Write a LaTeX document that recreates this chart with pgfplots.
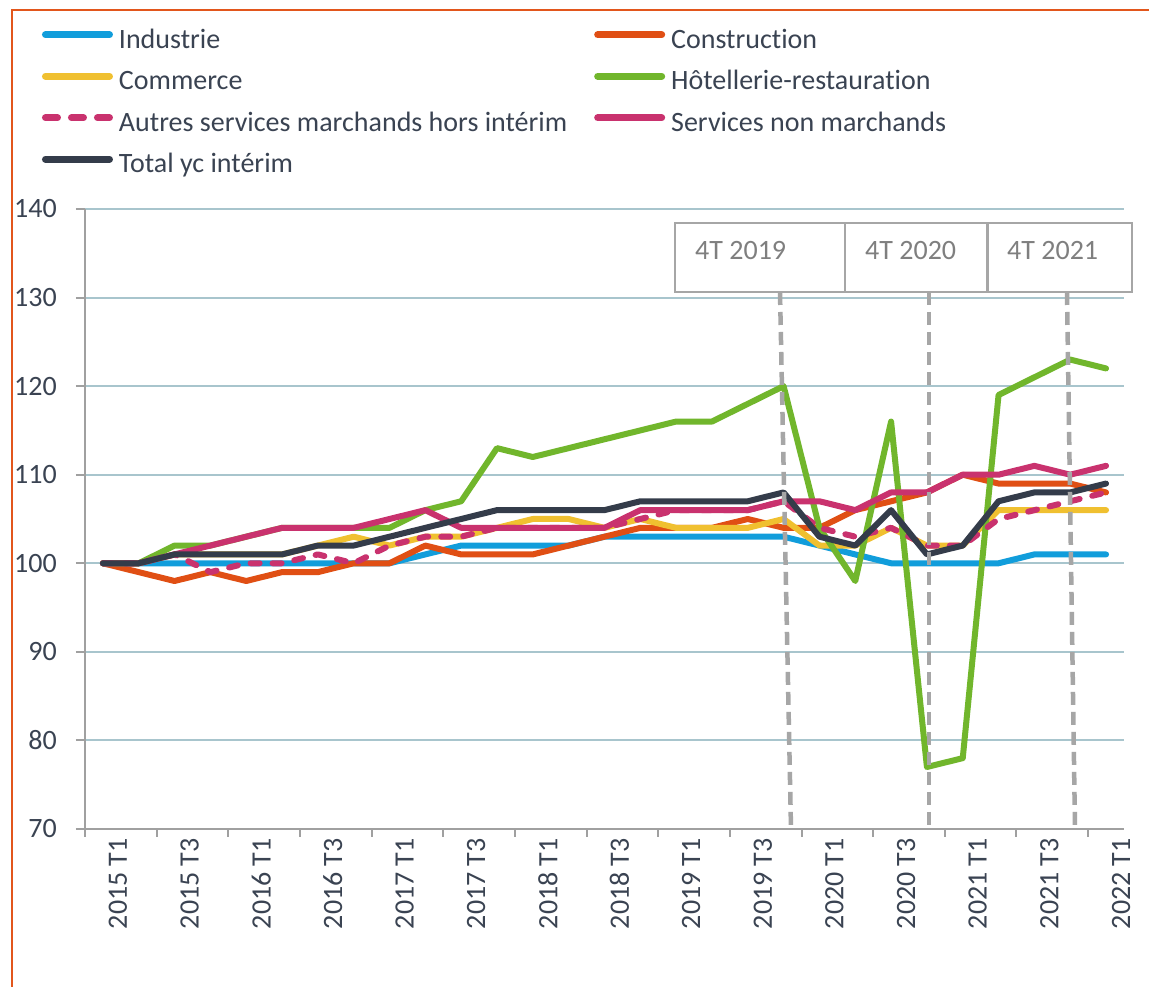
\documentclass[border=0pt]{standalone}
\usepackage{fontspec}
\setmainfont{Carlito}[Ligatures=NoCommon]
\usepackage{pgfplots}
\usepackage{pgfplotstable}
\pgfplotsset{compat=1.18}
\definecolor{cind}{HTML}{119DDB}
\definecolor{ccon}{HTML}{E04F14}
\definecolor{ccom}{HTML}{F0C030}
\definecolor{chot}{HTML}{71B62C}
\definecolor{cmag}{HTML}{C9326E}
\definecolor{ctot}{HTML}{343C4A}
\definecolor{cborder}{HTML}{E2561C}
\definecolor{gridc}{HTML}{A8C5CD}
\definecolor{axisgrey}{HTML}{A0A0A0}
\definecolor{txtc}{HTML}{3A4352}
\definecolor{boxgrey}{HTML}{A6A6A6}
\definecolor{boxtxt}{HTML}{7F7F7F}
\newcommand\bigf{\fontsize{28}{33}\selectfont}
\pgfplotstableread{
i ind con com hot aut snm tot
0 100 100 100 100 100 100 100
1 100 99 100 100 100 100 100
2 100 98 101 102 101 101 101
3 100 99 101 102 99 102 101
4 100 98 101 103 100 103 101
5 100 99 101 104 100 104 101
6 100 99 102 104 101 104 102
7 100 100 103 104 100 104 102
8 100 100 102 104 102 105 103
9 101 102 103 106 103 106 104
10 102 101 103 107 103 104 105
11 102 101 104 113 104 104 106
12 102 101 105 112 104 104 106
13 102 102 105 113 104 104 106
14 103 103 104 114 104 104 106
15 103 104 105 115 105 106 107
16 103 104 104 116 106 106 107
17 103 104 104 116 106 106 107
18 103 105 104 118 106 106 107
19 103 104 105 120 107 107 108
20 102 104 102 104 104 107 103
21 101 106 102 98 103 106 102
22 100 107 104 116 104 108 106
23 100 108 102 77 102 108 101
24 100 110 102 78 102 110 102
25 100 109 106 119 105 110 107
26 101 109 106 121 106 111 108
27 101 109 106 123 107 110 108
28 101 108 106 122 108 111 109
}\data
\begin{document}
\begin{tikzpicture}[x=1pt,y=1pt]
\useasboundingbox (0,0) rectangle (1149,987);
\fill[white] (0,0) rectangle (1149,987);
\begin{axis}[
  at={(85pt,158pt)}, anchor=south west,
  width=1039pt, height=620pt, scale only axis,
  xmin=-0.5, xmax=28.5, ymin=70, ymax=140,
  axis x line*=bottom, axis y line*=left,
  axis line style={draw=axisgrey, line width=2pt, -},
  xtick={0,2,...,28},
  xticklabels={2015 T1,2015 T3,2016 T1,2016 T3,2017 T1,2017 T3,2018 T1,2018 T3,2019 T1,2019 T3,2020 T1,2020 T3,2021 T1,2021 T3,2022 T1},
  minor xtick={-0.5,1.5,...,27.5},
  ytick={70,80,...,140},
  ymajorgrids, grid style={draw=gridc, line width=2pt},
  tick align=outside,
  major tick length=9pt, minor tick length=8pt,
  major x tick style={draw=none},
  minor x tick style={draw=axisgrey, line width=2pt},
  y tick style={draw=axisgrey, line width=2pt},
  /pgf/number format/assume math mode=true,
  tick label style={font=\bigf, text=txtc, inner sep=0pt},
  xticklabel style={rotate=90, anchor=east, yshift=-15pt},
  yticklabel style={anchor=east, xshift=-19pt},
  legend columns=2,
  legend cell align=left,
  legend style={draw=none, fill=none, inner sep=0pt, outer sep=0pt,
    at={(axis description cs:-0.04139,1.2915)}, anchor=north west,
    font=\bigf, text=txtc,
    nodes={inner sep=0pt, text height=20pt, text depth=7pt},
    row sep=14.5pt,
    /tikz/every odd column/.append style={column sep=6pt},
    /tikz/every even column/.append style={column sep=27pt}},
  legend image code/.code={\draw[#1, line width=7pt, line cap=round] (3.5pt,7pt) -- (67.5pt,7pt);},
  every axis plot/.append style={line width=6pt, line join=round, line cap=round},
]
\addplot[cind] table[x=i,y=ind]{\data};
\addlegendentry{Industrie}
\addplot[ccon] table[x=i,y=con]{\data};
\addlegendentry{Construction}
\addplot[ccom] table[x=i,y=com]{\data};
\addlegendentry{Commerce}
\addplot[chot] table[x=i,y=hot]{\data};
\addlegendentry{Hôtellerie-restauration}
\addplot[cmag, dash pattern=on 9pt off 13pt,
  legend image code/.code={\draw[cmag, line width=7pt, line cap=round, dash pattern=on 12pt off 14pt] (3.5pt,7pt) -- (67.5pt,7pt);}] table[x=i,y=aut]{\data};
\addlegendentry{Autres services marchands hors intérim}
\addplot[cmag] table[x=i,y=snm]{\data};
\addlegendentry{Services non marchands}
\addplot[ctot] table[x=i,y=tot]{\data};
\addlegendentry{Total yc intérim}
\end{axis}
% annotation boxes and dashed markers
\draw[boxgrey, line width=4.5pt, dash pattern=on 13pt off 7pt] (780,695) -- (791,158);
\draw[boxgrey, line width=4.5pt, dash pattern=on 13pt off 7pt] (929,695) -- (929,158);
\draw[boxgrey, line width=4.5pt, dash pattern=on 13pt off 7pt] (1067,695) -- (1075,158);
\draw[boxgrey, line width=2pt, fill=white] (675,695) rectangle (845,764);
\draw[boxgrey, line width=2pt, fill=white] (845,695) rectangle (987,764);
\draw[boxgrey, line width=2pt, fill=white] (988,695) rectangle (1132,764);
\node[anchor=base west, inner sep=0pt, text=boxtxt, font=\bigf] at (695,727) {4T 2019};
\node[anchor=base west, inner sep=0pt, text=boxtxt, font=\bigf] at (865,727) {4T 2020};
\node[anchor=base west, inner sep=0pt, text=boxtxt, font=\bigf] at (1007,727) {4T 2021};
% outer orange frame
\draw[cborder, line width=2.5pt] (12,0) -- (12,977) -- (1149,977);
\end{tikzpicture}
\end{document}
